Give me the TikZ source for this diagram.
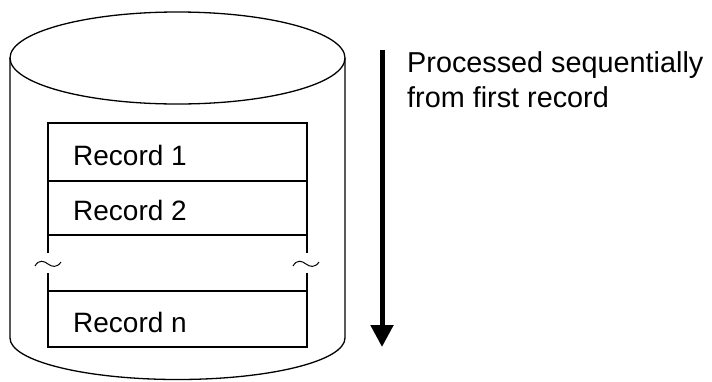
\documentclass[tikz,border=0pt]{standalone}
\usepackage{fontspec}
\setmainfont{Liberation Sans}
\usetikzlibrary{arrows.meta}
\begin{document}
\begin{tikzpicture}[x=1pt,y=-1pt,
  outline/.style={draw=black,line width=1.3pt},
  rec/.style={font=\fontsize{28}{34}\selectfont,anchor=base west,inner sep=0pt},
  lbl/.style={font=\fontsize{28.8}{35}\selectfont,anchor=base west,inner sep=0pt}]
\useasboundingbox (0,0) rectangle (712,381);
% cylinder
\draw[outline] (177.5,58) ellipse [x radius=167.5, y radius=46];
\draw[outline] (10,58) -- (10,338) arc[start angle=180,end angle=360,x radius=167.5,y radius=-41.5] -- (345,58);
% records
\draw[outline] (48,253) -- (48,123) -- (307,123) -- (307,253);
\draw[outline] (48,273) -- (48,347) -- (307,347) -- (307,273);
\draw[outline] (48,181) -- (307,181);
\draw[outline] (48,235) -- (307,235);
\draw[outline] (48,291) -- (307,291);
\node[rec] (r1) at (73,165) {Record 1};
\node[rec] (r2) at (73,220) {Record 2};
\node[rec] (rn) at (73,332) {Record n};
% tildes
\draw[line width=1pt] (35,266) .. controls (39,259) and (44,261) .. (48,264) .. controls (52,267) and (57,268) .. (61,262);
\draw[line width=1pt] (293,266) .. controls (297,259) and (302,261) .. (306,264) .. controls (310,267) and (315,268) .. (319,262);
% arrow
\coordinate (as) at (382,50);
\coordinate (ae) at (382,347);
\draw[line width=5pt,-{Triangle[length=22pt,width=22pt]}] (as) -- (ae);
\node[lbl] (t1) at (407,72) {Processed sequentially};
\node[lbl] (t2) at (407,107) {from first record};
\end{tikzpicture}
\end{document}
